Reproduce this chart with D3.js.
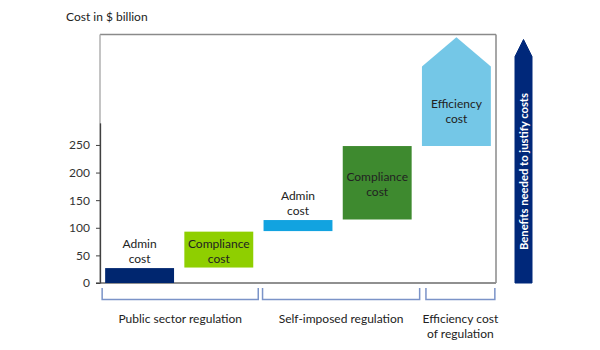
<!DOCTYPE html>
<html><head><meta charset="utf-8">
<script src="https://cdn.jsdelivr.net/npm/d3@7"></script>
<style>body{margin:0;background:#fff}svg{display:block}text{font-family:Lato,"Open Sans",sans-serif}</style>
</head><body><svg id="c" width="600" height="350"></svg>
<script>
const categories = ["pubAdmin","pubCompliance","selfAdmin","selfCompliance","efficiency"];
const labelLine1 = ["Admin","Compliance","Admin","Compliance","Efficiency"];
const labelLine2 = ["cost","cost","cost","cost","cost"];
const lows  = [0, 28, 94, 115, 248];
const highs = [27, 93, 114, 248, 392];
const peaks = [null, null, null, null, 445];
const colors = ["#00266f","#8fcf00","#12a3e0","#3e8a2f","#74c7e7"];
const labelInside = [false, true, false, true, true];
const groups = ["Public sector regulation","Self-imposed regulation","Efficiency cost|of regulation"];
const groupMembers = [[0,1],[2,3],[4,4]];
const yTicks = [0,50,100,150,200,250];
const arrowText = "Benefits needed to justify costs";
const title = "Cost in $ billion";

const svg = d3.select("#c");
const L=100, R=496, T=34.5, B=283;
const y = d3.scaleLinear().domain([0,450]).range([B,T]);
const x = d3.scaleBand().domain(categories).range([L,R]).paddingInner(0.13).paddingOuter(0.065);
const bw = x.bandwidth();

// box
svg.append("line").attr("x1",L).attr("x2",R).attr("y1",T).attr("y2",T).attr("stroke","#8a8a8a").attr("stroke-width",1.5);
svg.append("line").attr("x1",R).attr("x2",R).attr("y1",T).attr("y2",B).attr("stroke","#8a8a8a").attr("stroke-width",1.5);
svg.append("line").attr("x1",L).attr("x2",L).attr("y1",T).attr("y2",B).attr("stroke","#b0b0b0").attr("stroke-width",1.5);
svg.append("line").attr("x1",L-4).attr("x2",R).attr("y1",B).attr("y2",B).attr("stroke","#909090").attr("stroke-width",2);

// y axis
const yAx = y.copy().domain([0,290]).range([y(0),y(290)]);
const ax = svg.append("g").attr("transform",`translate(${L},0)`)
  .call(d3.axisLeft(yAx).tickValues(yTicks).tickSize(4).tickSizeOuter(0).tickPadding(6));
ax.select(".domain").attr("stroke","#404040").attr("stroke-width",1.3);
ax.selectAll(".tick line").attr("stroke","#404040");
ax.selectAll(".tick text").attr("fill","#333").style("font-size","12px").style("font-family","Lato, sans-serif");

// bars
categories.forEach((c,i)=>{
  const x0 = x(c), x1 = x0+bw;
  if (peaks[i]==null) {
    svg.append("rect").attr("x",x0).attr("y",y(highs[i])).attr("width",bw)
      .attr("height",y(lows[i])-y(highs[i])).attr("fill",colors[i]);
  } else {
    const pts = [[x0,y(lows[i])],[x0,y(highs[i])],[x0+bw/2,y(peaks[i])],[x1,y(highs[i])],[x1,y(lows[i])]];
    svg.append("path").attr("d",d3.line()(pts)+"Z").attr("fill",colors[i]);
  }
  const cx = x0+bw/2;
  let cy;
  if (labelInside[i]) cy = (y(lows[i])+y(highs[i]))/2 + (peaks[i]==null?1:5);
  else cy = y(highs[i]) - 17;
  const t = svg.append("text").attr("text-anchor","middle").attr("fill","#222").style("font-size","12px");
  t.append("tspan").attr("x",cx).attr("y",cy-3).text(labelLine1[i]);
  t.append("tspan").attr("x",cx).attr("y",cy+12).text(labelLine2[i]);
});

// brackets
const bracketInset = [[-3,5],[-1,8],[4,4]];
groups.forEach((g,gi)=>{
  const [a,b] = groupMembers[gi];
  const x0 = x(categories[a]) + bracketInset[gi][0];
  const x1 = Math.min(R-1, x(categories[b]) + bw + bracketInset[gi][1]);
  svg.append("path").attr("d",`M${x0},288V299.5H${x1}V288`).attr("fill","none")
    .attr("stroke","#7b93c8").attr("stroke-width",1.5);
  const lines = g.split("|");
  const t = svg.append("text").attr("text-anchor","middle").attr("fill","#222").style("font-size","12px");
  lines.forEach((ln,k)=> t.append("tspan").attr("x",(x0+x1)/2).attr("y",323+k*15).text(ln));
});

// title
svg.append("text").attr("x",66).attr("y",21).attr("fill","#222").style("font-size","12px").text(title);

// arrow
const ax0=515, ax1=532;
const arrowPts=[[ax0,y(0)],[ax0,y(410)],[(ax0+ax1)/2,y(441)],[ax1,y(410)],[ax1,y(0)]];
svg.append("path").attr("d",d3.line()(arrowPts)+"Z").attr("fill","#00287a").attr("stroke","#00287a").attr("stroke-linejoin","round");
svg.append("text").attr("transform",`translate(${(ax0+ax1)/2+4},171.5) rotate(-90)`)
  .attr("text-anchor","middle").attr("fill","#fff").style("font-size","11px").style("font-weight","bold")
  .attr("textLength",157).attr("lengthAdjust","spacingAndGlyphs").text(arrowText);
</script></body></html>
